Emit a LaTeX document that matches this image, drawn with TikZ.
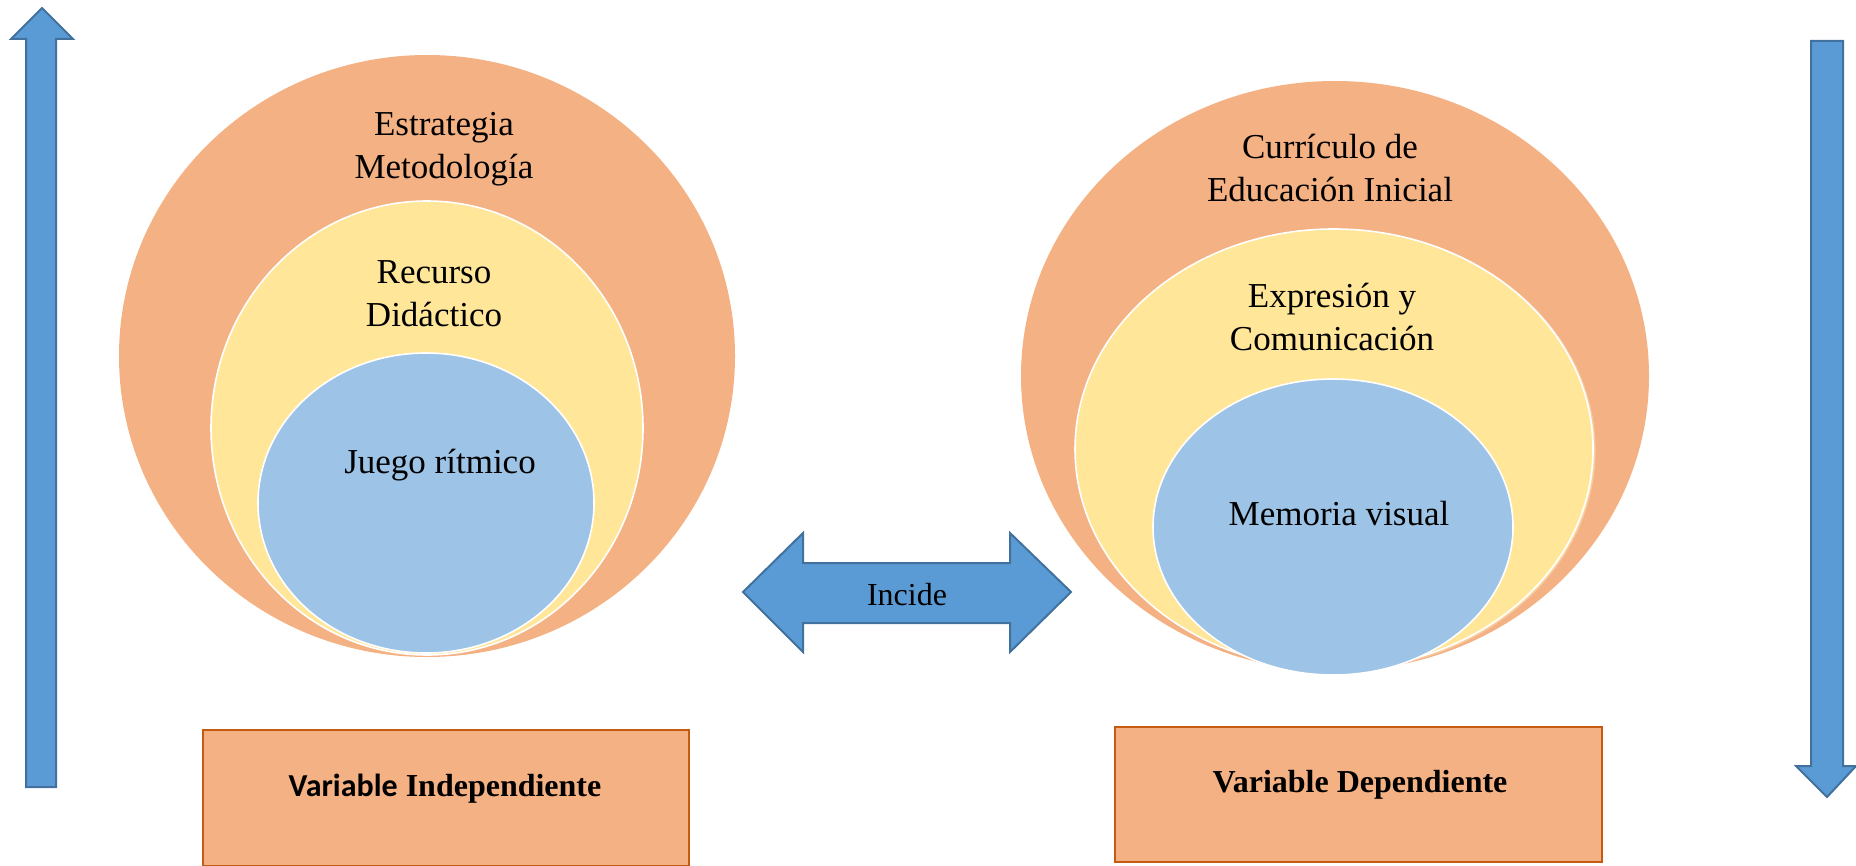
\documentclass[tikz,border=0pt]{standalone}
\usepackage{fontspec}
\setmainfont{Liberation Serif}
\newfontfamily\calib{Carlito}
\usetikzlibrary{shapes.geometric}
\definecolor{orangeF}{HTML}{F4B183}
\definecolor{yellowF}{HTML}{FFE699}
\definecolor{blueF}{HTML}{9DC3E6}
\definecolor{arrowF}{HTML}{5B9BD5}
\definecolor{arrowD}{HTML}{41719C}
\definecolor{boxD}{HTML}{C55A11}
\tikzset{
  ring/.style={ellipse, draw=white, line width=0.8pt, inner sep=0pt},
  lbl/.style={font=\fontsize{17.5}{21.5}\selectfont, align=center},
  varbox/.style={draw=boxD, fill=orangeF, line width=1.2pt},
  bigarrow/.style={fill=arrowF, draw=arrowD, line width=1pt, line join=miter}
}
\begin{document}
\begin{tikzpicture}[x=0.5pt,y=-0.5pt]
\useasboundingbox (0,0) rectangle (1856,866);
% left vertical arrow (up)
\draw[bigarrow] (26,787) -- (26,39) -- (11,39) -- (42,8) -- (73,39) -- (56,39) -- (56,787) -- cycle;
% right vertical arrow (down)
\draw[bigarrow] (1811,41) -- (1843,41) -- (1843,766) -- (1856,766) -- (1827,797) -- (1796,766) -- (1811,766) -- cycle;
% left circles
\node[ring, draw=none, fill=orangeF, minimum width=308pt, minimum height=301pt] (lo) at (427,356) {};
\node[ring, fill=yellowF, minimum width=216pt, minimum height=227pt] (ly) at (427,428) {};
\node[ring, fill=blueF, minimum width=168pt, minimum height=150pt] (lb) at (426,503) {};
\node[lbl] (t1) at (444,149) {Estrategia\\Metodología};
\node[lbl] (t2) at (434,294) {Recurso\\Didáctico};
\node[lbl] (t3) at (440,465) {Juego rítmico};
% right circles
\node[ring, draw=none, fill=orangeF, minimum width=314pt, minimum height=295pt] (ro) at (1335,376) {};
\node[ring, draw=orangeF!70, line width=0.6pt, fill=yellowF, minimum width=258pt, minimum height=220pt] (ry2) at (1337,450) {};
\node[ring, fill=yellowF, minimum width=259pt, minimum height=220pt] (ry) at (1334,449) {};
\node[ring, fill=blueF, minimum width=180pt, minimum height=148pt] (rb) at (1333,527) {};
\node[lbl] (t4) at (1330,168) {Currículo de\\Educación Inicial};
\node[lbl] (t5) at (1332,317) {Expresión y\\Comunicación};
\node[lbl] (t6) at (1339,514) {Memoria visual};
% double arrow
\draw[bigarrow] (743,592) -- (803,533) -- (803,563) -- (1010,563) -- (1010,533) -- (1071,592) -- (1010,652) -- (1010,623) -- (803,623) -- (803,652) -- cycle;
\node[font=\fontsize{16}{19}\selectfont] (inc) at (907,595) {Incide};
% boxes
\node[varbox, minimum width=243pt, minimum height=68pt, inner sep=0pt] (bi) at (446,798) {};
\node[font=\fontsize{16}{19}\selectfont] (vi) at (445,789) {{\calib\bfseries Variable} \textbf{Independiente}};
\node[varbox, minimum width=243.5pt, minimum height=67.5pt, inner sep=0pt] (bd) at (1358.5,794.5) {};
\node[font=\bfseries\fontsize{16}{19}\selectfont] (vd) at (1360,785) {Variable Dependiente};
\end{tikzpicture}
\end{document}
